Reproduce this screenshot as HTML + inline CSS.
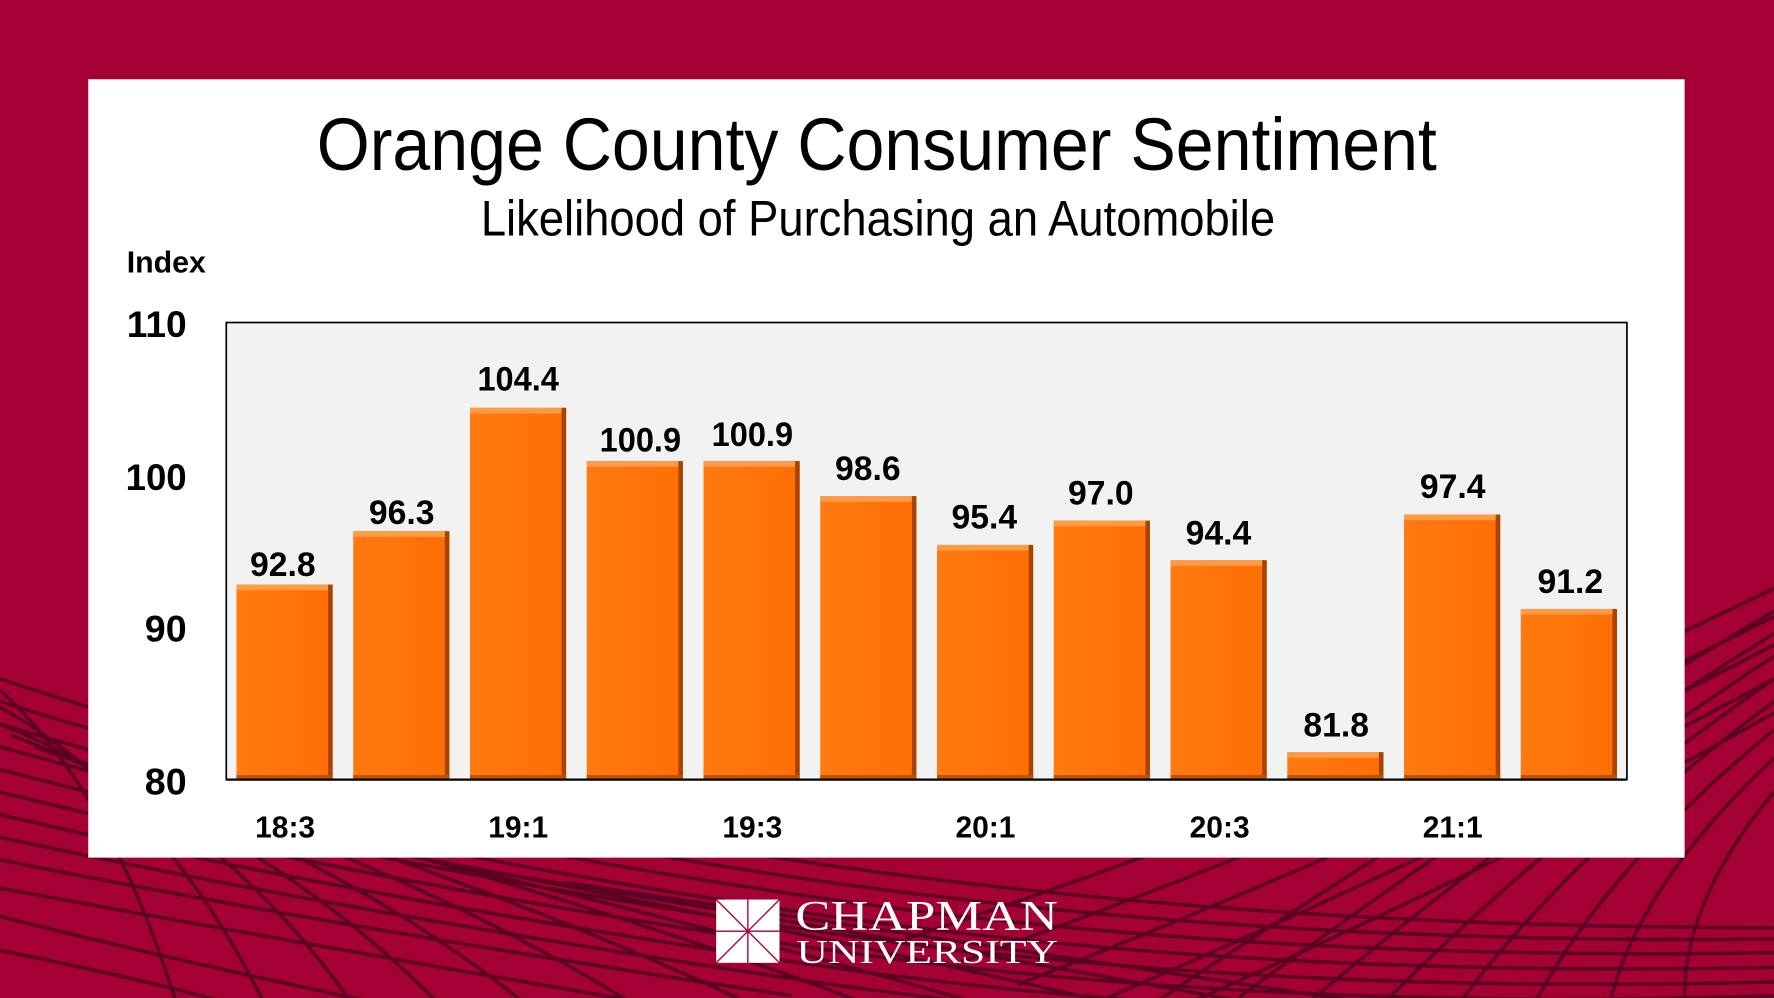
<!DOCTYPE html>
<html><head><meta charset="utf-8"><style>
html,body{margin:0;padding:0;background:#A50034;}
svg{display:block;}
.s{font-family:"Liberation Sans Narrow","Liberation Sans",sans-serif;}
.r{font-family:"Liberation Serif",serif;}
</style></head><body>
<svg width="1774" height="998" viewBox="0 0 1568 882" xmlns="http://www.w3.org/2000/svg">
<rect width="1568" height="882" fill="#A50034"/>
<g fill="none" stroke="#5a0022" stroke-width="3">
<path d="M0,600 Q300,700 700,760 T1568,820"/>
<path d="M0,620 Q300,715 700,775 T1568,830"/>
<path d="M0,640 Q300,730 700,790 T1568,842"/>
<path d="M0,660 Q300,745 700,805 T1568,855"/>
<path d="M0,680 Q300,760 700,820 T1568,868"/>
<path d="M0,700 Q300,775 700,835 T1568,880"/>
<path d="M0,720 Q300,790 700,850 T1568,895"/>
<path d="M0,740 Q300,805 700,865 T1568,910"/>
<path d="M0,760 Q300,820 700,880"/>
<path d="M0,785 Q300,840 650,900"/>
<path d="M0,810 Q200,860 400,900"/>
<path d="M0,840 Q150,870 250,900"/>
<path d="M0,610 Q100,700 160,900"/>
<path d="M0,625 Q150,710 240,900"/>
<path d="M0,640 Q200,720 320,900"/>
<path d="M10,650 Q250,740 400,900"/>
<path d="M30,660 Q300,750 480,900"/>
<path d="M60,670 Q360,760 580,900"/>
<path d="M100,680 Q430,775 690,900"/>
<path d="M150,700 Q500,785 800,900"/>
<path d="M200,720 Q570,800 910,900"/>
<path d="M300,745 Q680,815 1040,900"/>
<path d="M400,765 Q800,830 1180,900"/>
<path d="M500,780 Q900,840 1300,900"/>
<path d="M1568,540 Q1300,700 1000,900"/>
<path d="M1568,560 Q1320,715 1070,900"/>
<path d="M1568,580 Q1340,730 1140,900"/>
<path d="M1568,600 Q1360,745 1210,900"/>
<path d="M1568,620 Q1380,760 1280,900"/>
<path d="M1568,645 Q1410,775 1350,900"/>
<path d="M1568,670 Q1440,790 1420,900"/>
<path d="M1568,700 Q1480,805 1490,900"/>
<path d="M1568,520 Q1200,700 800,830"/>
<path d="M1568,545 Q1230,715 850,850"/>
<path d="M1568,570 Q1260,730 900,870"/>
<path d="M1568,600 Q1300,745 960,890"/>
<path d="M1568,630 Q1340,760 1020,900"/>
</g>
<rect x="78" y="70" width="1411" height="688" fill="#fff"/>
<g class="s">
<text x="775" y="150" text-anchor="middle" font-size="66" textLength="990" lengthAdjust="spacingAndGlyphs">Orange County Consumer Sentiment</text>
<text x="776" y="208" text-anchor="middle" font-size="44" textLength="702" lengthAdjust="spacingAndGlyphs">Likelihood of Purchasing an Automobile</text>
<text x="112" y="241" font-size="27" font-weight="bold" textLength="70" lengthAdjust="spacingAndGlyphs">Index</text>
</g>
<rect x="200" y="285" width="1238" height="404" fill="#F2F2F2" stroke="#000" stroke-width="1.5"/>
<g class="s" font-size="33" font-weight="bold" text-anchor="end">
<text x="165" y="298" textLength="53" lengthAdjust="spacingAndGlyphs">110</text>
<text x="165" y="433" textLength="54" lengthAdjust="spacingAndGlyphs">100</text>
<text x="165" y="567" textLength="37" lengthAdjust="spacingAndGlyphs">90</text>
<text x="165" y="702" textLength="37" lengthAdjust="spacingAndGlyphs">80</text>
</g>
<defs>
<linearGradient id="g" x1="0" x2="1"><stop offset="0" stop-color="#FF7A10"/><stop offset="1" stop-color="#FF6E05"/></linearGradient>
</defs>
<g>
<rect x="209" y="516.6" width="85" height="172.4" fill="url(#g)"/>
<rect x="312.2" y="469.5" width="85" height="219.5" fill="url(#g)"/>
<rect x="415.4" y="360.4" width="85" height="328.6" fill="url(#g)"/>
<rect x="518.6" y="407.5" width="85" height="281.5" fill="url(#g)"/>
<rect x="621.8" y="407.5" width="85" height="281.5" fill="url(#g)"/>
<rect x="725" y="438.5" width="85" height="250.5" fill="url(#g)"/>
<rect x="828.2" y="481.6" width="85" height="207.4" fill="url(#g)"/>
<rect x="931.4" y="460.1" width="85" height="228.9" fill="url(#g)"/>
<rect x="1034.6" y="495.1" width="85" height="193.9" fill="url(#g)"/>
<rect x="1137.8" y="664.8" width="85" height="24.2" fill="url(#g)"/>
<rect x="1241" y="454.7" width="85" height="234.3" fill="url(#g)"/>
<rect x="1344.2" y="538.2" width="85" height="150.8" fill="url(#g)"/>
</g>
<g fill="#FF9A45">
<rect x="209" y="516.6" width="85" height="5"/><rect x="312.2" y="469.5" width="85" height="5"/><rect x="415.4" y="360.4" width="85" height="5"/><rect x="518.6" y="407.5" width="85" height="5"/><rect x="621.8" y="407.5" width="85" height="5"/><rect x="725" y="438.5" width="85" height="5"/><rect x="828.2" y="481.6" width="85" height="5"/><rect x="931.4" y="460.1" width="85" height="5"/><rect x="1034.6" y="495.1" width="85" height="5"/><rect x="1137.8" y="664.8" width="85" height="5"/><rect x="1241" y="454.7" width="85" height="5"/><rect x="1344.2" y="538.2" width="85" height="5"/>
</g>
<g fill="#A84400">
<rect x="290" y="516.6" width="4" height="172.4"/><rect x="393.2" y="469.5" width="4" height="219.5"/><rect x="496.4" y="360.4" width="4" height="328.6"/><rect x="599.6" y="407.5" width="4" height="281.5"/><rect x="702.8" y="407.5" width="4" height="281.5"/><rect x="806" y="438.5" width="4" height="250.5"/><rect x="909.2" y="481.6" width="4" height="207.4"/><rect x="1012.4" y="460.1" width="4" height="228.9"/><rect x="1115.6" y="495.1" width="4" height="193.9"/><rect x="1218.8" y="664.8" width="4" height="24.2"/><rect x="1322" y="454.7" width="4" height="234.3"/><rect x="1425.2" y="538.2" width="4" height="150.8"/>
</g>
<g fill="#C05200">
<rect x="209" y="685" width="85" height="4"/><rect x="312.2" y="685" width="85" height="4"/><rect x="415.4" y="685" width="85" height="4"/><rect x="518.6" y="685" width="85" height="4"/><rect x="621.8" y="685" width="85" height="4"/><rect x="725" y="685" width="85" height="4"/><rect x="828.2" y="685" width="85" height="4"/><rect x="931.4" y="685" width="85" height="4"/><rect x="1034.6" y="685" width="85" height="4"/><rect x="1137.8" y="685" width="85" height="4"/><rect x="1241" y="685" width="85" height="4"/><rect x="1344.2" y="685" width="85" height="4"/>
</g>
<g class="s" font-size="30" font-weight="bold" text-anchor="middle" lengthAdjust="spacingAndGlyphs">
<text x="250" y="509" textLength="58" lengthAdjust="spacingAndGlyphs">92.8</text>
<text x="355" y="463" textLength="58" lengthAdjust="spacingAndGlyphs">96.3</text>
<text x="458" y="345" textLength="72" lengthAdjust="spacingAndGlyphs">104.4</text>
<text x="566" y="399" textLength="72" lengthAdjust="spacingAndGlyphs">100.9</text>
<text x="665" y="394" textLength="72" lengthAdjust="spacingAndGlyphs">100.9</text>
<text x="767" y="424" textLength="58" lengthAdjust="spacingAndGlyphs">98.6</text>
<text x="870" y="467" textLength="58" lengthAdjust="spacingAndGlyphs">95.4</text>
<text x="973" y="446" textLength="58" lengthAdjust="spacingAndGlyphs">97.0</text>
<text x="1077" y="481" textLength="58" lengthAdjust="spacingAndGlyphs">94.4</text>
<text x="1181" y="651" textLength="58" lengthAdjust="spacingAndGlyphs">81.8</text>
<text x="1284" y="440" textLength="58" lengthAdjust="spacingAndGlyphs">97.4</text>
<text x="1388" y="524" textLength="58" lengthAdjust="spacingAndGlyphs">91.2</text>
</g>
<line x1="200" y1="689" x2="1438" y2="689" stroke="#000" stroke-width="2"/>
<g class="s" font-size="27" font-weight="bold" text-anchor="middle">
<text x="252" y="740" textLength="53" lengthAdjust="spacingAndGlyphs">18:3</text>
<text x="458" y="740" textLength="53" lengthAdjust="spacingAndGlyphs">19:1</text>
<text x="665" y="740" textLength="53" lengthAdjust="spacingAndGlyphs">19:3</text>
<text x="871" y="740" textLength="53" lengthAdjust="spacingAndGlyphs">20:1</text>
<text x="1078" y="740" textLength="53" lengthAdjust="spacingAndGlyphs">20:3</text>
<text x="1284" y="740" textLength="53" lengthAdjust="spacingAndGlyphs">21:1</text>
</g>
<g>
<rect x="633" y="795" width="56" height="56" fill="#fff"/>
<g stroke="#A50034" stroke-width="1.2"><line x1="661" y1="795" x2="661" y2="851"/><line x1="633" y1="823" x2="689" y2="823"/><line x1="633" y1="795" x2="689" y2="851"/><line x1="689" y1="795" x2="633" y2="851"/></g>
<text class="r" x="703" y="822" font-size="37" fill="#fff" textLength="232" lengthAdjust="spacingAndGlyphs">CHAPMAN</text>
<text class="r" x="704" y="851" font-size="30" fill="#fff" textLength="231" lengthAdjust="spacingAndGlyphs">UNIVERSITY</text>
</g>
</svg>
</body></html>
